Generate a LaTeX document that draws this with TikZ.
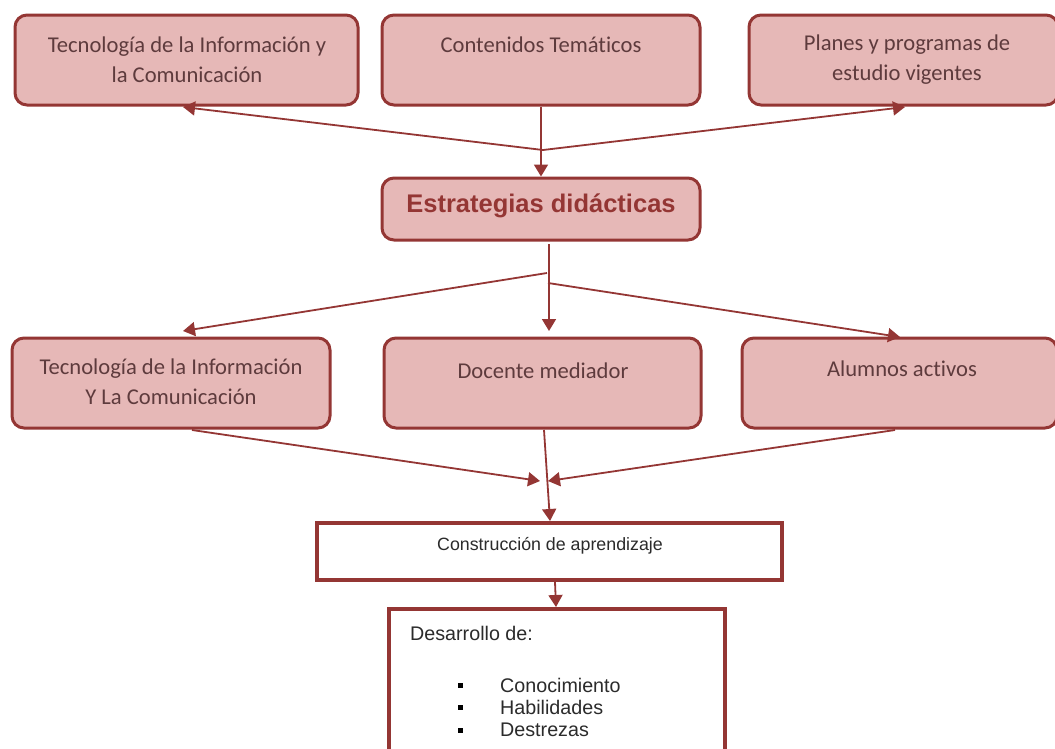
\documentclass[tikz,border=0pt]{standalone}
\usepackage{fontspec}
\setmainfont{Carlito}[Ligatures=NoCommon]
\newfontfamily\arialf{Liberation Sans}
\usetikzlibrary{arrows.meta,fit}
\definecolor{bord}{HTML}{943634}
\definecolor{boxfill}{HTML}{E6B8B7}
\definecolor{txt}{HTML}{5E3B3D}
\definecolor{gtxt}{HTML}{2B2B2B}
\begin{document}
\begin{tikzpicture}[x=1pt,y=-1pt,
  pinkbox/.style={draw=bord, fill=boxfill, line width=3pt, rounded corners=12pt, inner sep=0pt},
  whitebox/.style={draw=bord, fill=white, line width=4pt, inner sep=0pt},
  lbl/.style={text=txt, font=\fontsize{22.6}{30}\selectfont, align=center, inner sep=0pt},
  boldlbl/.style={text=bord, font=\arialf\bfseries\fontsize{25.5}{28}\selectfont, inner sep=0pt},
  arlbl/.style={text=gtxt, font=\arialf\fontsize{17.8}{20}\selectfont, inner sep=0pt},
  listlbl/.style={text=gtxt, font=\arialf\fontsize{19.7}{23}\selectfont, inner sep=0pt, anchor=west},
  conn/.style={draw=bord, line width=1.8pt, -{Triangle[length=12pt,width=14pt]}},
  plainline/.style={draw=bord, line width=1.8pt}]
\useasboundingbox (0,0) rectangle (1055,748);
\clip (0,0) rectangle (1055,748);
% boxes
\node[pinkbox, fit={(15,15) (358,105)}] (tic1) {};
\node[pinkbox, fit={(382,15) (700,105)}] (cont) {};
\node[pinkbox, fit={(749,15) (1058,105)}] (plan) {};
\node[pinkbox, fit={(382,178) (700,240)}] (estr) {};
\node[pinkbox, fit={(12,338) (330,428)}] (tic2) {};
\node[pinkbox, fit={(384,338) (701,428)}] (doc) {};
\node[pinkbox, fit={(742,338) (1057,428)}] (alum) {};
\node[whitebox, fit={(317,523) (782,580)}] (cons) {};
\node[whitebox, fit={(389,609) (725,770)}] (des) {};
% texts
\node[lbl] (tic1t) at (187,60) {Tecnología de la Información y\\la Comunicación};
\node[lbl] (contt) at (541,45) {Contenidos Temáticos};
\node[lbl] (plant) at (907,60) {Planes y programas de\\estudio vigentes};
\node[boldlbl] (estrt) at (541,206) {Estrategias didácticas};
\node[lbl] (tic2t) at (171,382) {Tecnología de la Información\\Y La Comunicación};
\node[lbl] (doct) at (543,371) {Docente mediador};
\node[lbl] (alumt) at (902,369) {Alumnos activos};
\node[arlbl] (const) at (550,546) {Construcción de aprendizaje};
\node[listlbl] (dest) at (410,633) {Desarrollo de:};
\node[listlbl] (i1) at (500,685) {Conocimiento};
\node[listlbl] (i2) at (500,707) {Habilidades};
\node[listlbl] (i3) at (500,730) {Destrezas};
\foreach \yy/\nm in {685/b1,707/b2,730/b3}
  \node[fill=black, minimum size=5pt, inner sep=0pt] (\nm) at (460,\yy) {};
% connector points
\coordinate (j1) at (543,150);
\coordinate (t1) at (183,107);
\coordinate (t3) at (905,107);
\coordinate (s2) at (549,244);
\coordinate (j2a) at (547,273);
\coordinate (j2b) at (548,283);
\coordinate (m1) at (183,331);
\coordinate (m2) at (549,331);
\coordinate (m3) at (900,337);
\coordinate (b1s) at (192,430);
\coordinate (b3s) at (895,430);
\coordinate (b2s) at (544,430);
\coordinate (c1) at (540,481);
\coordinate (c3) at (548,481);
\coordinate (cn) at (550,521);
\coordinate (d1) at (555,582);
\coordinate (d2) at (556,607);
% connectors
\draw[conn] (cont.south) -- (estr.north);
\draw[conn] (j1) -- (t1);
\draw[conn] (j1) -- (t3);
\draw[conn] (s2) -- (m2);
\draw[conn] (j2a) -- (m1);
\draw[conn] (j2b) -- (m3);
\draw[conn] (b1s) -- (c1);
\draw[conn] (b3s) -- (c3);
\draw[conn] (b2s) -- (cn);
\draw[conn] (d1) -- (d2);
\end{tikzpicture}
\end{document}
